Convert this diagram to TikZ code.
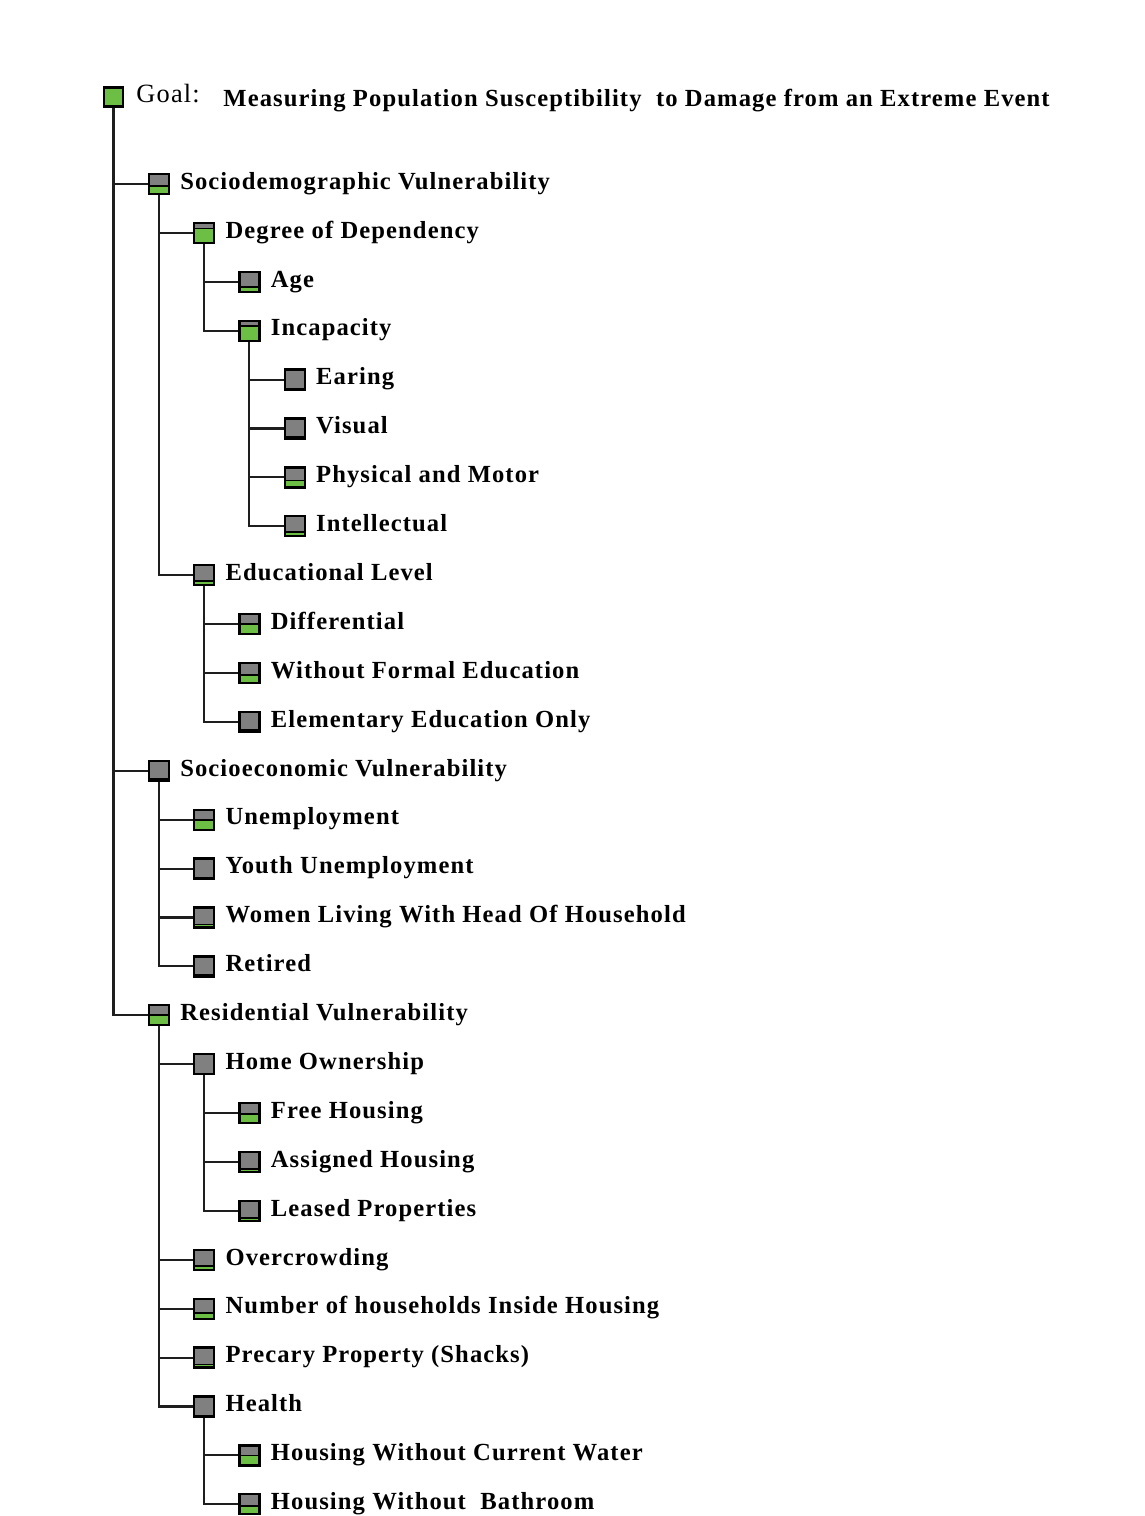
\documentclass[tikz,border=0pt]{standalone}
\usepackage{fontspec}
\setmainfont{Liberation Serif}[LetterSpace=4.5]
\usetikzlibrary{positioning}
\definecolor{boxgray}{RGB}{128,128,128}
\definecolor{barfill}{RGB}{108,190,69}
\definecolor{treeline}{RGB}{30,30,30}
\tikzset{
	wbox/.style={draw=black, fill=boxgray, line width=1.3pt, minimum size=0.4cm, inner sep=0pt,
		path picture={
			\fill[barfill] (path picture bounding box.south west) rectangle ([yshift=\w*0.4cm]path picture bounding box.south east);
			\draw[line width=1pt] ([yshift=\w*0.4cm]path picture bounding box.south west) -- ([yshift=\w*0.4cm]path picture bounding box.south east);
		}},
	lbl/.style={inner sep=0pt, text height=1.3ex, text depth=0pt, font=\fontsize{14}{16}\selectfont\bfseries},
	tree/.style={draw=treeline, line width=1.2pt}
}
\begin{document}
\begin{tikzpicture}[x=0.02cm, y=-0.02cm]
	\useasboundingbox (0,0) rectangle (1145,1516);
	\node (goal) [draw=black, fill=barfill, line width=1.3pt, minimum size=0.38cm, inner sep=0pt] at (113.5,97) {};
	\node (goallabel) [right=0.24cm of goal, inner sep=0pt, text height=1.3ex, text depth=0pt, font=\fontsize{15}{17}\selectfont] {Goal:};
	\node (goaltext) [right=0.46cm of goallabel, lbl, yshift=-0.08cm] {Measuring Population Susceptibility\ \ to Damage from an Extreme Event};
	\foreach \n/\lv/\r/\w/\t in {
		sdv/1/0/0.4/Sociodemographic Vulnerability,
		dod/2/1/0.72/Degree of Dependency,
		age/3/2/0.25/Age,
		inc/3/3/0.75/Incapacity,
		ear/4/4/0/Earing,
		vis/4/5/0.06/Visual,
		phm/4/6/0.35/Physical and Motor,
		itl/4/7/0.2/Intellectual,
		edl/2/8/0.2/Educational Level,
		dif/3/9/0.5/Differential,
		wfe/3/10/0.4/Without Formal Education,
		eeo/3/11/0.08/Elementary Education Only,
		sev/1/12/0.1/Socioeconomic Vulnerability,
		une/2/13/0.5/Unemployment,
		yun/2/14/0.06/Youth Unemployment,
		wlh/2/15/0.15/Women Living With Head Of Household,
		ret/2/16/0.06/Retired,
		rev/1/17/0.5/Residential Vulnerability,
		how/2/18/0/Home Ownership,
		frh/3/19/0.45/Free Housing,
		ash/3/20/0.15/Assigned Housing,
		lep/3/21/0.15/Leased Properties,
		ovc/2/22/0.2/Overcrowding,
		nhh/2/23/0.3/Number of households Inside Housing,
		prp/2/24/0.15/Precary Property (Shacks),
		hea/2/25/0.05/Health,
		hcw/3/26/0.5/Housing Without Current Water,
		hwb/3/27/0.4/Housing Without\ \ Bathroom}
	{
		\node (\n) [wbox] at ({113.5+45.3*\lv},{184+48.9*\r}) {};
		\node (\n-t) [right=0.2cm of \n, lbl] {\t};
	}
	\foreach \p/\c in {goal/sdv, goal/sev, goal/rev,
		sdv/dod, sdv/edl, dod/age, dod/inc, inc/ear, inc/vis, inc/phm, inc/itl,
		edl/dif, edl/wfe, edl/eeo,
		sev/une, sev/yun, sev/wlh, sev/ret,
		rev/how, rev/ovc, rev/nhh, rev/prp, rev/hea,
		how/frh, how/ash, how/lep, hea/hcw, hea/hwb}
		\draw[tree] (\p.south) |- (\c.west);
\end{tikzpicture}
\end{document}
